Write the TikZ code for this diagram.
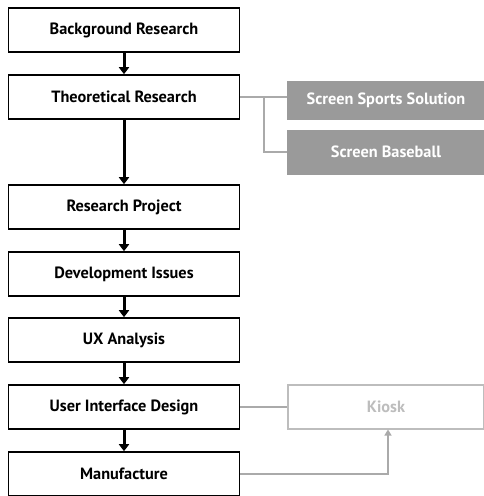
\documentclass[tikz,border=0pt]{standalone}
\usepackage{fontspec}
\setmainfont{PT Sans}
\usetikzlibrary{arrows.meta}
\definecolor{boxgrey}{HTML}{9A9A9A}
\definecolor{linegrey}{HTML}{AAAAAA}
\definecolor{ghost}{HTML}{BDBDBD}
\begin{document}
\begin{tikzpicture}[x=1pt,y=-1pt,
  label font/.style={font=\bfseries\fontsize{16.3}{19}\selectfont},
  stage/.style={draw=black,line width=1.6pt,fill=white,minimum width=231pt,minimum height=44pt,
    label font,inner sep=0pt},
  option/.style={fill=boxgrey,minimum width=198pt,text=white,label font,inner sep=0pt},
  faint/.style={draw=ghost,line width=1.2pt,fill=white,minimum width=196pt,minimum height=44pt,text=ghost,
    label font,inner sep=0pt},
  flow/.style={line width=3pt,-{Triangle[width=10pt,length=7pt]}},
  link/.style={draw=linegrey,line width=1.2pt},
  linkarrow/.style={draw=linegrey,line width=1.2pt,-{Triangle[width=7pt,length=6pt]}}]
\useasboundingbox (0,0) rectangle (484,496);
\fill[white] (0,0) rectangle (484,496);
% main sequence of stages
\node[stage] (bg) at (124,30) {Background Research};
\node[stage] (th) at (124,97) {Theoretical Research};
\node[stage] (rp) at (124,207) {Research Project};
\node[stage] (dev) at (124,274) {Development Issues};
\node[stage] (ux) at (124,340) {UX Analysis};
\node[stage] (ui) at (124,407) {User Interface Design};
\node[stage] (mf) at (124,474) {Manufacture};
% side branches
\node[option,minimum height=39pt] (sss) at (386,100.5) {Screen Sports Solution};
\node[option,minimum height=45pt] (sb) at (386,152) {Screen Baseball};
\node[faint] (ki) at (386,407) {Kiosk};
% flow arrows
\draw[flow] (bg.south) -- (th.north);
\draw[flow] (th.south) -- (rp.north);
\draw[flow] (rp.south) -- (dev.north);
\draw[flow] (dev.south) -- (ux.north);
\draw[flow] (ux.south) -- (ui.north);
\draw[flow] (ui.south) -- (mf.north);
% branch links
\coordinate (split) at (264,97);
\draw[link] (th.east) -- (th.east -| sss.west);
\draw[link] (split) |- (sb.west);
\draw[link] (ui.east) -- (ki.west);
\draw[linkarrow] (mf.east) -| (388,429.5);
\end{tikzpicture}
\end{document}
